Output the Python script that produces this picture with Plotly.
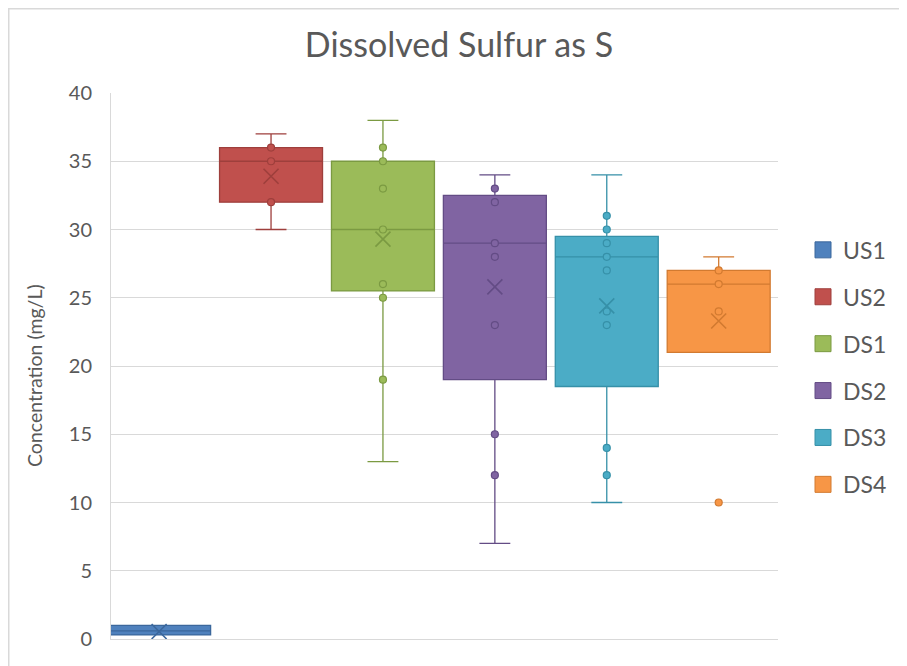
import plotly.graph_objects as go

# ---- data ----
series = ["US1", "US2", "DS1", "DS2", "DS3", "DS4"]

# individual points visible on each box (whisker ends carry no marker)
pts_US1 = []
pts_US2 = [32, 35, 36]
pts_DS1 = [19, 25, 26, 30, 33, 35, 36]
pts_DS2 = [12, 15, 23, 28, 29, 32, 33]
pts_DS3 = [12, 14, 23, 24, 27, 28, 29, 30, 31]
pts_DS4 = [10, 24, 26, 27]

q1_vals = [0.3, 32, 25.5, 19, 18.5, 21]
median_vals = [0.6, 35, 30, 29, 28, 26]
q3_vals = [1.0, 36, 35, 32.5, 29.5, 27]
lower_whisker = [0.3, 30, 13, 7, 10, 21]
upper_whisker = [1.0, 37, 38, 34, 34, 28]
mean_vals = [0.55, 33.9, 29.3, 25.8, 24.4, 23.3]

points = [pts_US1, pts_US2, pts_DS1, pts_DS2, pts_DS3, pts_DS4]

fill_colors = ["#4F81BD", "#C0504D", "#9BBB59", "#8064A2", "#4BACC6", "#F79646"]
line_colors = ["#3B679C", "#9E3F3C", "#7B9A42", "#634C85", "#3690A8", "#D27A30"]

TEXT = "#595959"
GRID = "#D9D9D9"
FONT = "Lato"

W, H = 899, 658          # page body has an 8px margin
PL, PR, PT, PB = 103, 770, 85, 631   # plot area in figure px

fig = go.Figure()

for i, name in enumerate(series):
    fig.add_trace(go.Box(
        x=[name], q1=[q1_vals[i]], median=[median_vals[i]], q3=[q3_vals[i]],
        lowerfence=[lower_whisker[i]], upperfence=[upper_whisker[i]],
        fillcolor=fill_colors[i], line=dict(color=line_colors[i], width=1.3),
        width=0.92, whiskerwidth=0.3, boxpoints=False, showlegend=False,
        hoverinfo="skip", name=name,
    ))

for i, name in enumerate(series):
    if points[i]:
        fig.add_trace(go.Scatter(
            x=[name] * len(points[i]), y=points[i], mode="markers",
            marker=dict(symbol="circle", size=7, color=fill_colors[i],
                        line=dict(color=line_colors[i], width=1.2)),
            showlegend=False, hoverinfo="skip",
        ))
    fig.add_trace(go.Scatter(
        x=[name], y=[mean_vals[i]], mode="markers",
        marker=dict(symbol="x-thin", size=15,
                    line=dict(color=line_colors[i], width=1.6)),
        showlegend=False, hoverinfo="skip",
    ))

# legend entries (square swatches like the reference)
for i, name in enumerate(series):
    fig.add_trace(go.Scatter(
        x=[None], y=[None], mode="markers", name=name, legendgroup=name,
        marker=dict(symbol="square", size=20, color=fill_colors[i],
                    line=dict(color=line_colors[i], width=1)),
    ))

fig.update_layout(
    width=W, height=H,
    margin=dict(l=PL, r=W - PR, t=PT, b=H - PB, autoexpand=False),
    paper_bgcolor="white", plot_bgcolor="white",
    font=dict(family=FONT, color=TEXT),
    title=dict(text="Dissolved Sulfur as S", x=451 / W, xanchor="center",
               xref="container", y=1 - 37 / H, yanchor="middle", yref="container",
               font=dict(size=34, color=TEXT, family=FONT)),
    showlegend=True,
    legend=dict(x=1.0375, xanchor="left", y=0.752, yanchor="top",
                font=dict(size=23, color=TEXT, family=FONT),
                traceorder="grouped", tracegroupgap=14,
                bgcolor="rgba(0,0,0,0)"),
    boxmode="overlay",
)

fig.update_xaxes(
    type="category", categoryorder="array", categoryarray=series,
    range=[-0.43, 5.53], showticklabels=False, showgrid=False,
    showline=True, linecolor=GRID, linewidth=1, ticks="", zeroline=False,
)
fig.update_yaxes(
    range=[0, 40], dtick=5, showgrid=True, gridcolor=GRID, gridwidth=1,
    showline=True, linecolor=GRID, linewidth=1, zeroline=False, ticks="",
    tickfont=dict(size=20, color=TEXT, family=FONT), ticklabelstandoff=14,
)

fig.add_annotation(
    text="Concentration (mg/L)", xref="paper", yref="paper",
    x=(27 - PL) / (PR - PL), y=(PB - 368) / (PB - PT), xanchor="center", yanchor="middle",
    textangle=-90, showarrow=False, font=dict(size=19.5, color=TEXT, family=FONT),
)

fig.add_shape(
    type="rect", xref="paper", yref="paper",
    x0=(0.75 - PL) / (PR - PL), x1=(940 - PL) / (PR - PL),
    y0=(PB - 700) / (PB - PT), y1=(PB - 0.75) / (PB - PT),
    line=dict(color=GRID, width=1.5), fillcolor="rgba(0,0,0,0)", layer="below",
)

fig.write_html("out.html")
